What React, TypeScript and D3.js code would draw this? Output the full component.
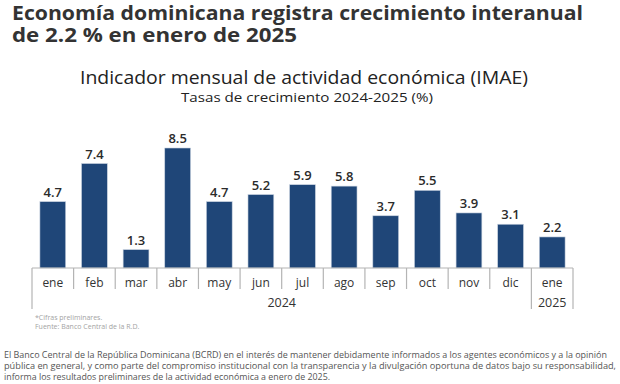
import React from 'react';
import * as d3 from 'd3';

const months = ['ene', 'feb', 'mar', 'abr', 'may', 'jun', 'jul', 'ago', 'sep', 'oct', 'nov', 'dic', 'ene'];
const growth = [4.7, 7.4, 1.3, 8.5, 4.7, 5.2, 5.9, 5.8, 3.7, 5.5, 3.9, 3.1, 2.2];
const years = [
  { label: '2024', from: 0, to: 11 },
  { label: '2025', from: 12, to: 12 },
];
const headline = ['Economía dominicana registra crecimiento interanual', 'de 2.2 % en enero de 2025'];
const chartTitle = 'Indicador mensual de actividad económica (IMAE)';
const chartSubtitle = 'Tasas de crecimiento 2024-2025 (%)';
const notes = ['*Cifras preliminares.', 'Fuente: Banco Central de la R.D.'];
const paragraph = [
  'El Banco Central de la República Dominicana (BCRD) en el interés de mantener debidamente informados a los agentes económicos y a la opinión',
  'pública en general, y como parte del compromiso institucional con la transparencia y la divulgación oportuna de datos bajo su responsabilidad,',
  'informa los resultados preliminares de la actividad económica a enero de 2025.',
];

const W = 620;
const H = 384;
const font = "'Open Sans', 'DejaVu Sans', sans-serif";
const barColor = '#1f4678';
const axisColor = '#b4b4b4';

export default function App() {
  const idx = months.map((_, i) => i);
  // sections of the category axis (no padding, separators sit on the edges)
  const x = d3.scaleBand<number>().domain(idx).range([32, 573]).padding(0);
  const barW = x.bandwidth() * 0.62;
  const y = d3.scaleLinear().domain([0, 8.5]).range([268, 148]);
  const base = y(0);

  const edges = idx.map((i) => x(i)!).concat([x(12)! + x.bandwidth()]);
  const longEdges = new Set([0, 12, 13]);

  return (
    <div style={{ position: 'fixed', left: 0, top: 0, width: W, height: H, background: '#fff' }}>
      <svg width={W} height={H} style={{ display: 'block' }} fontFamily={font}>
        <rect width={W} height={H} fill="#fff" />

        <text x={12} y={20} fontSize={19.5} fontWeight={700} fill="#333" textLength={571} lengthAdjust="spacingAndGlyphs">
          {headline[0]}
        </text>
        <text x={12} y={42} fontSize={19.5} fontWeight={700} fill="#333" textLength={285} lengthAdjust="spacingAndGlyphs">
          {headline[1]}
        </text>

        <text x={304} y={84} textAnchor="middle" fontSize={17.5} fontWeight={500} fill="#222" textLength={448} lengthAdjust="spacingAndGlyphs">
          {chartTitle}
        </text>
        <text x={307} y={102} textAnchor="middle" fontSize={13} fontWeight={500} fill="#222" textLength={252} lengthAdjust="spacingAndGlyphs">
          {chartSubtitle}
        </text>

        {growth.map((v, i) => {
          const cx = x(i)! + x.bandwidth() / 2;
          return (
            <g key={i}>
              <rect
                x={cx - barW / 2}
                y={y(v)}
                width={barW}
                height={base - y(v)}
                fill={barColor}
                stroke="#c9d3e0"
                strokeWidth={0.6}
              />
              <text x={cx} y={y(v) - 5} textAnchor="middle" fontSize={13} fontWeight={600} fill="#2b2b2b">
                {v.toFixed(1)}
              </text>
              <text x={cx} y={287} textAnchor="middle" fontSize={12} fontWeight={500} fill="#333">
                {months[i]}
              </text>
            </g>
          );
        })}

        <line x1={edges[0]} x2={edges[13]} y1={base} y2={base} stroke={axisColor} strokeWidth={1.2} />
        {edges.map((ex, k) => (
          <line key={k} x1={ex} x2={ex} y1={base} y2={longEdges.has(k) ? 309 : 289} stroke={axisColor} strokeWidth={1.2} />
        ))}
        {years.map((yr) => {
          const cx = (x(yr.from)! + x(yr.to)! + x.bandwidth()) / 2;
          return (
            <text key={yr.label} x={cx} y={307} textAnchor="middle" fontSize={12.5} fontWeight={500} fill="#333">
              {yr.label}
            </text>
          );
        })}

        {notes.map((n, i) => (
          <text key={i} x={35} y={320 + i * 8.5} fontSize={7} fill="#a3a3a3">
            {n}
          </text>
        ))}

        {paragraph.map((p, i) => (
          <text
            key={i}
            x={4}
            y={358 + i * 11}
            fontSize={8.6}
            fill="#555"
            textLength={[603, 612, 326][i]}
            lengthAdjust="spacingAndGlyphs"
          >
            {p}
          </text>
        ))}
      </svg>
    </div>
  );
}
